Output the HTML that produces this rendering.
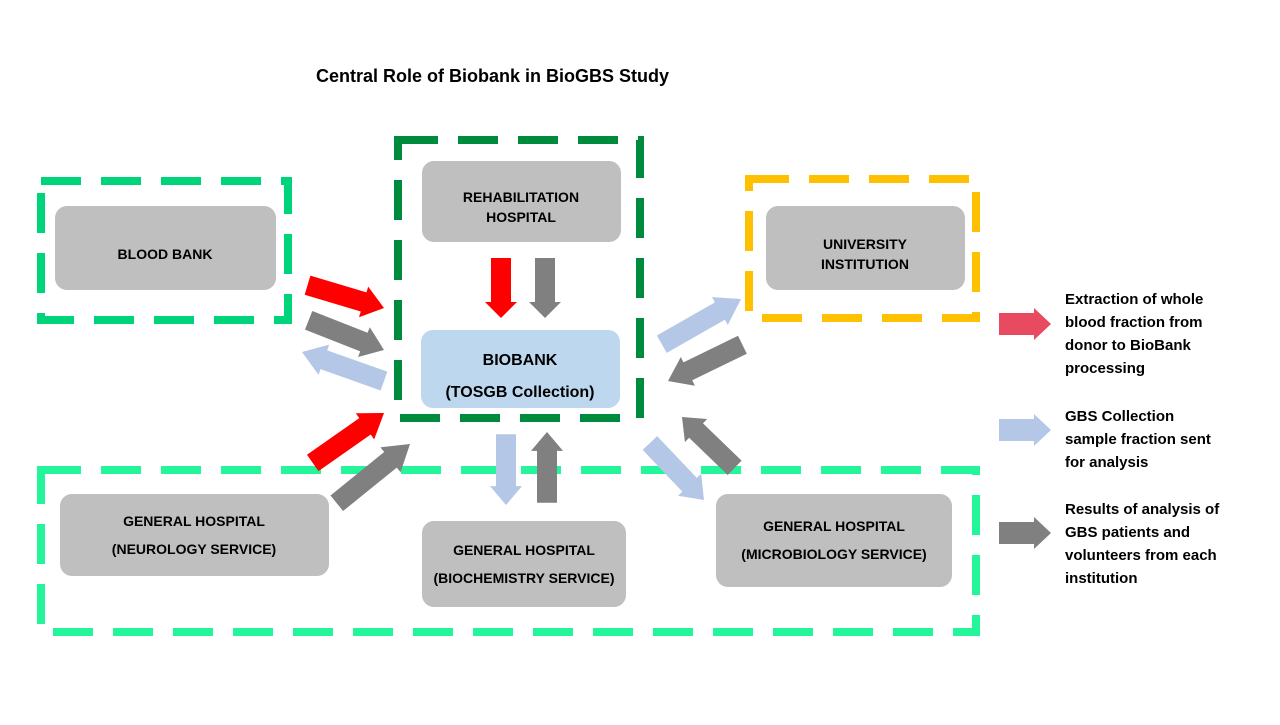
<!DOCTYPE html>
<html><head><meta charset="utf-8"><style>
body{margin:0;background:#fff;}
svg text{font-family:"Liberation Sans",sans-serif;font-weight:bold;}
</style></head><body>
<svg width="1280" height="720" xmlns="http://www.w3.org/2000/svg">
<defs>
<polygon id="ar" points="-60,-10 -16,-10 -16,-16 0,0 -16,16 -16,10 -60,10"/>
</defs>
<text x="316" y="82" font-size="18" fill="#000">Central Role of Biobank in BioGBS Study</text>

<g fill="none" stroke-width="8" stroke-dasharray="40,20">
<rect x="41" y="181" width="247" height="139" stroke="#00d47a"/>
<rect x="398" y="140" width="242" height="278" stroke="#008a3e"/>
<rect x="749" y="179" width="227" height="139" stroke="#ffc000"/>
<rect x="41" y="470" width="935" height="162" stroke="#24f59a"/>
</g>

<g fill="#bfbfbf">
<rect x="55" y="206" width="221" height="84" rx="12"/>
<rect x="422" y="161" width="199" height="81" rx="12"/>
<rect x="766" y="206" width="199" height="84" rx="12"/>
<rect x="60" y="494" width="269" height="82" rx="12"/>
<rect x="422" y="521" width="204" height="86" rx="12"/>
<rect x="716" y="494" width="236" height="93" rx="12"/>
</g>
<rect x="421" y="330" width="199" height="78" rx="12" fill="#bdd7ee"/>

<g font-size="14" fill="#000" text-anchor="middle">
<text x="165" y="259">BLOOD BANK</text>
<text x="521" y="202">REHABILITATION</text>
<text x="521" y="222">HOSPITAL</text>
<text x="865" y="249">UNIVERSITY</text>
<text x="865" y="269">INSTITUTION</text>
<text x="194" y="526">GENERAL HOSPITAL</text>
<text x="194" y="554">(NEUROLOGY SERVICE)</text>
<text x="524" y="555">GENERAL HOSPITAL</text>
<text x="524" y="583">(BIOCHEMISTRY SERVICE)</text>
<text x="834" y="531">GENERAL HOSPITAL</text>
<text x="834" y="559">(MICROBIOLOGY SERVICE)</text>
<text x="520" y="365" font-size="16">BIOBANK</text>
<text x="520" y="397" font-size="16">(TOSGB  Collection)</text>
</g>

<!-- arrows: translate to tip, rotate to direction -->
<g>
<g transform="translate(384,308) rotate(16.6)"><use href="#ar" fill="#ff0000" transform="scale(1.33,1)"/></g>
<g transform="translate(384,350) rotate(21.5)"><use href="#ar" fill="#808080" transform="scale(1.35,1)"/></g>
<g transform="translate(302,352) rotate(199.5)"><use href="#ar" fill="#b4c7e7" transform="scale(1.45,1)"/></g>
<g transform="translate(384,413) rotate(-35)"><use href="#ar" fill="#ff0000" transform="scale(1.45,1)"/></g>
<g transform="translate(410,444) rotate(-39)"><use href="#ar" fill="#808080" transform="scale(1.57,1)"/></g>
<g transform="translate(501,318) rotate(90)"><use href="#ar" fill="#ff0000"/></g>
<g transform="translate(545,318) rotate(90)"><use href="#ar" fill="#808080"/></g>
<g transform="translate(506,505) rotate(90)"><use href="#ar" fill="#b4c7e7" transform="scale(1.18,1)"/></g>
<g transform="translate(547,432) rotate(-90)"><use href="#ar" fill="#808080" transform="scale(1.18,1)"/></g>
<g transform="translate(741,299) rotate(-29.7)"><use href="#ar" fill="#b4c7e7" transform="scale(1.52,1)"/></g>
<g transform="translate(668,381) rotate(154)"><use href="#ar" fill="#808080" transform="scale(1.38,1)"/></g>
<g transform="translate(704,500) rotate(46.5)"><use href="#ar" fill="#b4c7e7" transform="scale(1.31,1)"/></g>
<g transform="translate(682,417) rotate(224)"><use href="#ar" fill="#808080" transform="scale(1.22,1)"/></g>
</g>

<g>
<polygon points="999,313 1034,313 1034,308 1051,324 1034,340 1034,335 999,335" fill="#e84a5f"/>
<polygon points="999,419 1034,419 1034,414 1051,430 1034,446 1034,441 999,441" fill="#b4c7e7"/>
<polygon points="999,522 1034,522 1034,517 1051,533 1034,549 1034,544 999,544" fill="#808080"/>
</g>
<g font-size="15" fill="#000">
<text x="1065" y="304">Extraction of whole</text>
<text x="1065" y="327">blood fraction from</text>
<text x="1065" y="350">donor to BioBank</text>
<text x="1065" y="373">processing</text>
<text x="1065" y="421">GBS Collection</text>
<text x="1065" y="444">sample fraction sent</text>
<text x="1065" y="467">for analysis</text>
<text x="1065" y="514">Results of analysis of</text>
<text x="1065" y="537">GBS patients and</text>
<text x="1065" y="560">volunteers from each</text>
<text x="1065" y="583">institution</text>
</g>
</svg>
</body></html>
